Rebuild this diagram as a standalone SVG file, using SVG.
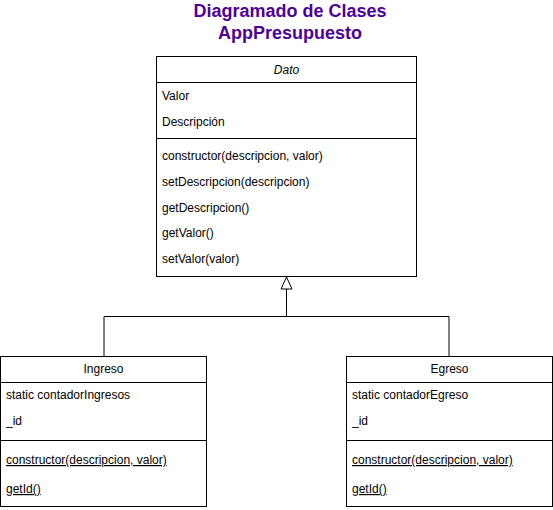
<svg xmlns="http://www.w3.org/2000/svg" width="553" height="510" viewBox="0 0 553 510">
<style>
.box{fill:#fff;stroke:#000;stroke-width:1}
.ln{stroke:#000;stroke-width:1;fill:none}
.t{font-family:"Liberation Sans",Arial,sans-serif;font-size:12px;fill:#000}
.c{text-anchor:middle}
.u{text-decoration:underline}
.title{font-family:"Liberation Sans",Arial,sans-serif;font-size:18px;font-weight:bold;fill:#4C0099;text-anchor:middle}
</style>
<rect width="553" height="510" fill="#fff"/>
<g id="title">
<text class="title" x="290" y="17">Diagramado de Clases</text>
<text class="title" x="290" y="39">AppPresupuesto</text>
</g>
<g id="connectors">
<path class="ln" d="M104 356V316.5H449V356"/>
<path class="ln" d="M286.5 316.5V289"/>
<polygon points="286.5,277 281,289 292,289" fill="#fff" stroke="#000"/>
</g>
<g id="Dato">
<rect class="box" x="156.5" y="56.5" width="260" height="220"/>
<line class="ln" x1="156.5" y1="82.5" x2="416.5" y2="82.5"/>
<line class="ln" x1="156.5" y1="138.5" x2="416.5" y2="138.5"/>
<text class="t c" x="286.5" y="74" font-style="italic">Dato</text>
<text class="t" x="162" y="100">Valor</text>
<text class="t" x="162" y="126">Descripción</text>
<text class="t" x="162" y="160">constructor(descripcion, valor)</text>
<text class="t" x="162" y="186">setDescripcion(descripcion)</text>
<text class="t" x="162" y="212">getDescripcion()</text>
<text class="t" x="162" y="237">getValor()</text>
<text class="t" x="162" y="263">setValor(valor)</text>
</g>
<g id="Ingreso">
<rect class="box" x="0.5" y="356.5" width="206" height="150"/>
<line class="ln" x1="0.5" y1="382.5" x2="206.5" y2="382.5"/>
<line class="ln" x1="0.5" y1="440.5" x2="206.5" y2="440.5"/>
<text class="t c" x="103.5" y="373">Ingreso</text>
<text class="t" x="6" y="399">static contadorIngresos</text>
<text class="t" x="6" y="425">_id</text>
<text class="t u" x="6" y="464">constructor(descripcion, valor)</text>
<text class="t u" x="6" y="493">getId()</text>
</g>
<g id="Egreso">
<rect class="box" x="346.5" y="356.5" width="206" height="150"/>
<line class="ln" x1="346.5" y1="382.5" x2="552.5" y2="382.5"/>
<line class="ln" x1="346.5" y1="440.5" x2="552.5" y2="440.5"/>
<text class="t c" x="449.5" y="373">Egreso</text>
<text class="t" x="352" y="399">static contadorEgreso</text>
<text class="t" x="352" y="425">_id</text>
<text class="t u" x="352" y="464">constructor(descripcion, valor)</text>
<text class="t u" x="352" y="493">getId()</text>
</g>
</svg>
